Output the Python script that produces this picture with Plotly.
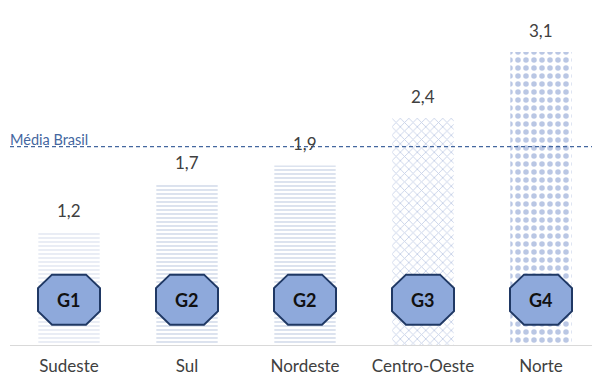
import plotly.graph_objects as go

regions = ["Sudeste", "Sul", "Nordeste", "Centro-Oeste", "Norte"]
values = [1.2, 1.7, 1.9, 2.4, 3.1]
groups = ["G1", "G2", "G2", "G3", "G4"]
media_brasil = 2.1
media_label = "Média Brasil"
badge_level = 0.48

pat_shapes = ["-", "-", "-", "x", "."]
pat_sizes = [4, 4, 4, 6, 8]
pat_solid = [0.25, 0.3, 0.3, 0.28, 0.38]
pat_colors = ["#A9B8D6", "#8A9FC8", "#8A9FC8", "#8FA4D2", "#7590CA"]

fig = go.Figure()
fig.add_trace(go.Bar(
    x=regions, y=values, width=0.52,
    marker=dict(color="white", line=dict(width=0),
                pattern=dict(shape=pat_shapes, size=pat_sizes, solidity=pat_solid,
                             fgcolor=pat_colors, bgcolor="white", fillmode="overlay")),
    hoverinfo="skip", showlegend=False,
))

# octagon badges: pixel-sized shapes anchored at each category
hw, hh, ew, eh = 31, 25, 17, 11.5
octo = (f"M{-ew},{hh} L{ew},{hh} L{hw},{eh} L{hw},{-eh} L{ew},{-hh} "
        f"L{-ew},{-hh} L{-hw},{-eh} L{-hw},{eh} Z")
for i, g in enumerate(groups):
    fig.add_shape(type="path", xref="x", yref="y", xsizemode="pixel", ysizemode="pixel",
                  xanchor=i, yanchor=badge_level, path=octo,
                  fillcolor="#8EA9DB", line=dict(color="#1F3864", width=2), layer="above")
    fig.add_annotation(x=regions[i], y=badge_level, text=f"<b>{g}</b>", showarrow=False,
                       font=dict(family="Lato", size=18, color="#111111"))

for r, v in zip(regions, values):
    fig.add_annotation(x=r, y=v, text=f"{v:.1f}".replace(".", ","), showarrow=False,
                       yanchor="bottom", yshift=9,
                       font=dict(family="Lato", size=17, color="#404040"))

fig.add_hline(y=media_brasil, line=dict(color="#44679F", width=1.2, dash="4px,3px"))
fig.add_annotation(xref="paper", x=-0.0034, y=media_brasil, text=media_label, showarrow=False,
                   xanchor="left", yanchor="bottom", yshift=-3,
                   font=dict(family="Lato", size=14.5, color="#44679F"))

# the page body adds an 8px margin, so the figure is sized to fit the 600x376 window
fig.update_layout(
    width=592, height=368, margin=dict(l=2, r=0, t=0, b=31, autoexpand=False),
    paper_bgcolor="white", plot_bgcolor="white",
    separators=", ",
    xaxis=dict(showline=True, linecolor="#D9D9D9", linewidth=1, ticks="",
               automargin=False, ticklabelstandoff=6,
               tickfont=dict(family="Lato", size=17, color="#404040"), showgrid=False),
    yaxis=dict(range=[0, 3.566], visible=False, showgrid=False, automargin=False),
)
fig.write_html("out.html")
